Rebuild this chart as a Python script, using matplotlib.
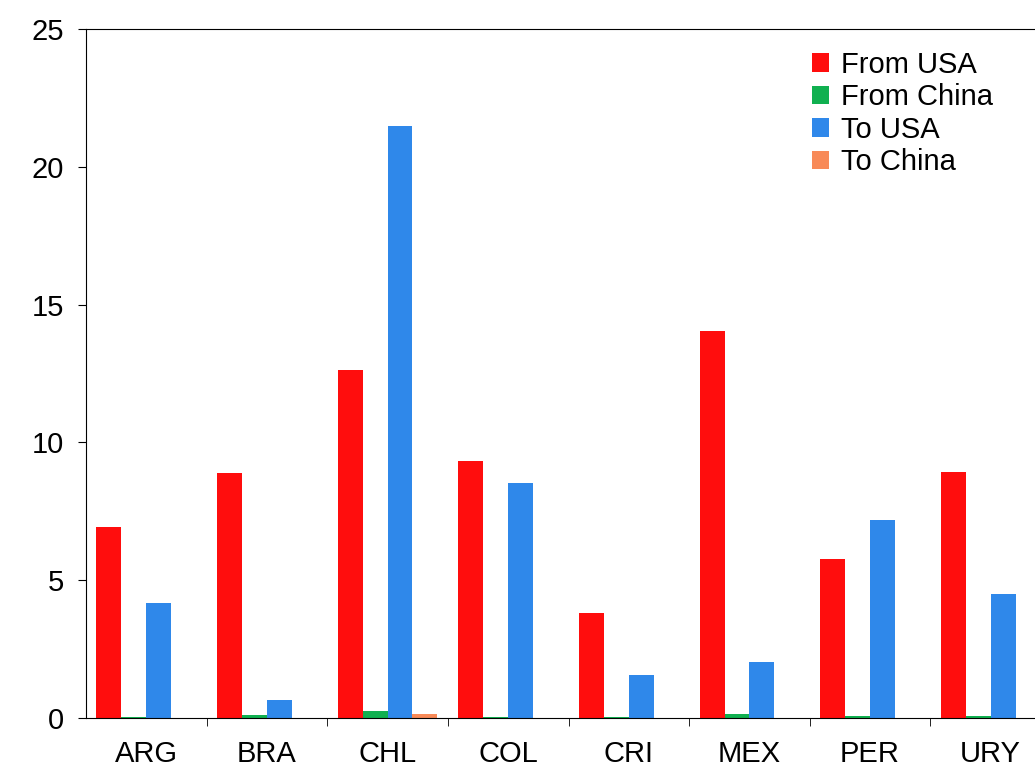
import matplotlib
matplotlib.use("Agg")
import matplotlib.pyplot as plt
import numpy as np

plt.rcParams['font.family'] = ['Liberation Sans', 'DejaVu Sans']

categories = ["ARG", "BRA", "CHL", "COL", "CRI", "MEX", "PER", "URY"]
from_usa = [6.93, 8.89, 12.63, 9.33, 3.81, 14.04, 5.77, 8.93]
from_china = [0.03, 0.10, 0.25, 0.05, 0.04, 0.15, 0.08, 0.08]
to_usa = [4.17, 0.65, 21.48, 8.53, 1.56, 2.03, 7.18, 4.50]
to_china = [0.0, 0.0, 0.14, 0.0, 0.0, 0.0, 0.0, 0.0]
series = [("From USA", from_usa, "#ff0d0d"), ("From China", from_china, "#10b050"),
          ("To USA", to_usa, "#2f88ea"), ("To China", to_china, "#f88a58")]

fig = plt.figure(figsize=(10.35, 7.69), dpi=100)
ax = fig.add_axes([86/1035, 1-718/769, 965/1035, 689/769])
x = np.arange(len(categories))
w = 25/121
for i, (name, vals, col) in enumerate(series):
    ax.bar(x + (i-1.5)*w, vals, w, color=col, label=name)
ax.set_xlim(-0.5, 7.5)
ax.set_ylim(0, 25)
ax.set_yticks([0, 5, 10, 15, 20, 25])
ax.set_xticks(x)
ax.set_xticklabels(categories)
ax.set_xticks(np.arange(0.5, 7.5, 1), minor=True)
ax.tick_params(axis='x', which='major', length=0, pad=16, labelsize=21)
ax.tick_params(axis='x', which='minor', length=6, direction='out')
ax.tick_params(axis='y', length=6, labelsize=21, pad=10)
ax.spines['right'].set_visible(False)
ax.legend(loc='upper left', bbox_to_anchor=((800-86)/965, 0.985), frameon=False,
          fontsize=21, handlelength=0.6, handleheight=0.6, handletextpad=0.4,
          labelspacing=0.15, borderaxespad=0)
fig.savefig("out.png", dpi=100)
